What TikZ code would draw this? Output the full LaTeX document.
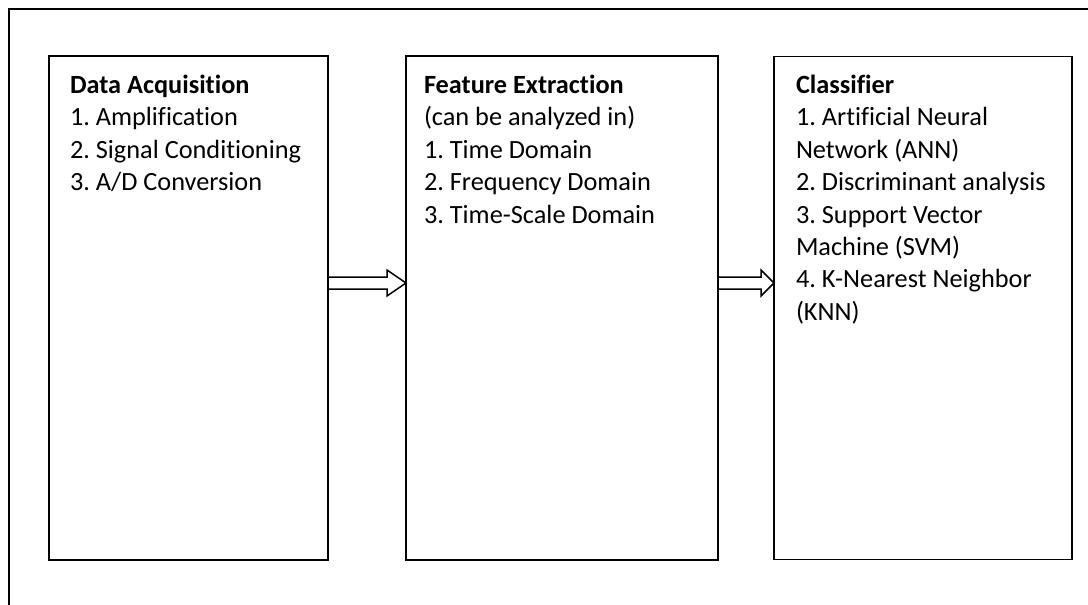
\documentclass[tikz,border=0pt]{standalone}
\usepackage{fontspec}
\setmainfont[Ligatures=NoCommon]{Carlito}
\frenchspacing
\usetikzlibrary{calc}
\tikzset{
  box/.style={draw, line width=1.8pt, inner sep=0pt, outer sep=0pt, anchor=north west},
  txt/.style={anchor=base west, inner sep=0pt, outer sep=0pt, font=\fontsize{26.3}{32.5}\selectfont},
  blockarr/.style={draw, line width=1.5pt, line join=miter},
  frame/.style={line width=1.8pt}
}
\newcommand{\items}[1]{\begin{tabular}[t]{@{}l@{}}#1\end{tabular}}
\begin{document}
\begin{tikzpicture}[x=1pt,y=-1pt]
\useasboundingbox (0,0) rectangle (1088,605);
% outer frame (only top and left edges visible)
\draw[frame] (9,605) -- (9,9) -- (1088,9);
% boxes
\node[box, minimum width=279pt, minimum height=504pt] (b1) at (49,56) {};
\node[box, minimum width=312pt, minimum height=504pt] (b2) at (406,56) {};
\node[box, minimum width=298pt, minimum height=503pt] (b3) at (774,56.5) {};
% texts
\node[txt] (t1) at ($(b1.north west)+(21,37)$) {\items{\textbf{Data Acquisition}\\1. Amplification\\2. Signal Conditioning\\3. A/D Conversion}};
\node[txt] (t2) at ($(b2.north west)+(18,37)$) {\items{\textbf{Feature Extraction}\\(can be analyzed in)\\1. Time Domain\\2. Frequency Domain\\3. Time-Scale Domain}};
\node[txt] (t3) at ($(b3.north west)+(22,36.5)$) {\items{\textbf{Classifier}\\1. Artificial Neural\\Network (ANN)\\2. Discriminant analysis\\3. Support Vector\\Machine (SVM)\\4. K-Nearest Neighbor\\(KNN)}};
% block arrows
\path ($(b1.east)+(0,-25)$) coordinate (a1s) ($(b2.west)+(0,-25)$) coordinate (a1e);
\path ($(b2.east)+(0,-25)$) coordinate (a2s) ($(b3.west)+(0,-25)$) coordinate (a2e);
\draw[blockarr] ($(a1s)+(0,6)$) -- ($(a1e)+(-19,6)$) -- ($(a1e)+(-19,13)$) -- (a1e) -- ($(a1e)+(-19,-13)$) -- ($(a1e)+(-19,-6)$) -- ($(a1s)+(0,-6)$);
\draw[blockarr] ($(a2s)+(0,6)$) -- ($(a2e)+(-13,6)$) -- ($(a2e)+(-13,13)$) -- (a2e) -- ($(a2e)+(-13,-13)$) -- ($(a2e)+(-13,-6)$) -- ($(a2s)+(0,-6)$);
\end{tikzpicture}
\end{document}
